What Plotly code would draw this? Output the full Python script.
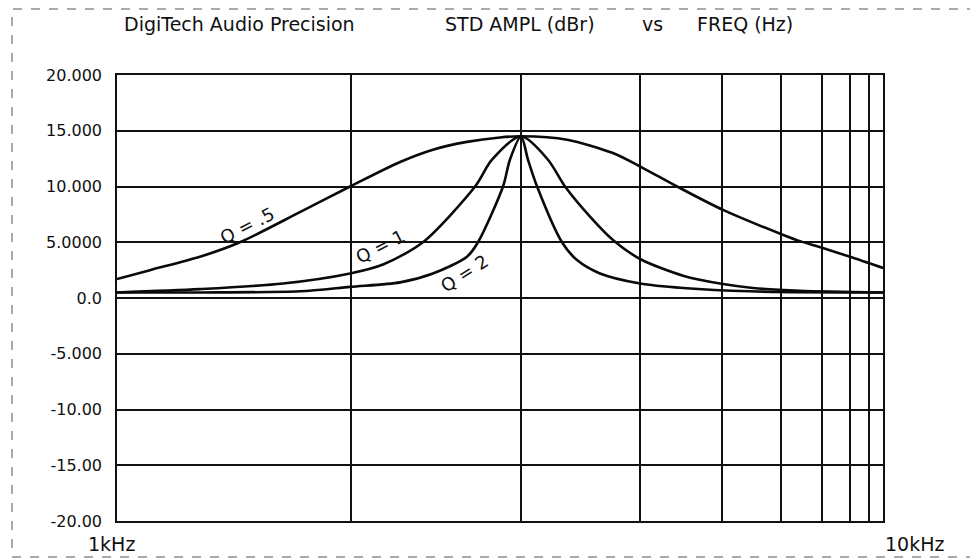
import plotly.graph_objects as go

# ---- data (frequency in Hz, level in dBr) ----
q05_freq = [1000, 1104, 1283, 1447, 1733, 2015, 2342, 2585, 2863, 3162, 3369,
            3868, 4441, 4847, 5384, 6182, 7382, 7791, 8324, 9056, 10000]
q05_db = [1.7, 2.5, 3.7, 5.0, 7.7, 10.0, 12.2, 13.3, 14.0, 14.4, 14.5,
          14.2, 13.0, 11.7, 10.0, 7.9, 5.7, 5.1, 4.5, 3.7, 2.7]

q1_freq = [1000, 1283, 1647, 2015, 2225, 2508, 2934, 3087, 3369,
           3653, 3845, 4145, 4441, 4818, 5482, 6182, 6765, 7791, 10000]
q1_db = [0.5, 0.8, 1.3, 2.2, 3.0, 5.0, 10.0, 12.4, 14.5,
         12.4, 10.0, 7.3, 5.2, 3.5, 2.0, 1.25, 0.9, 0.65, 0.5]

q2_freq = [1000, 1283, 1733, 2015, 2342, 2585, 2863, 2960, 3191, 3258, 3369,
           3440, 3535, 3810, 3986, 4271, 4818, 5482, 6704, 10000]
q2_db = [0.5, 0.5, 0.6, 1.0, 1.4, 2.2, 3.7, 5.0, 10.0, 12.4, 14.5,
         12.4, 10.0, 5.0, 3.4, 2.2, 1.3, 0.9, 0.6, 0.5]

# vertical grid positions (Hz) as they appear on the log frequency axis
grid_freqs = [1000, 2021, 3369, 4818, 6163, 7360, 8324, 9056, 9588, 10000]

y_ticks = [-20, -15, -10, -5, 0, 5, 10, 15, 20]
y_labels = ["-20.00", "-15.00", "-10.00", "-5.000", "0.0", "5.0000", "10.000", "15.000", "20.000"]

curve_labels = ["Q = .5", "Q = 1", "Q = 2"]
x_labels = ["1kHz", "10kHz"]
title_parts = ["DigiTech Audio Precision", "STD AMPL (dBr)", "vs", "FREQ (Hz)"]

# ---- figure ----
# the page body has an 8px margin, so the figure is 8px smaller than the window
OFF = 8
W, H = 978 - OFF, 558 - OFF
PL, PR, PT, PB = 117, 883, 75, 521          # plot area in page pixels
pw, ph = PR - PL, PB - PT


def px(x):
    return (x - PL) / pw


def py(y):
    return (PB - y) / ph


fig = go.Figure()
for fx, fy in [(q05_freq, q05_db), (q1_freq, q1_db), (q2_freq, q2_db)]:
    fig.add_trace(go.Scatter(x=fx, y=fy, mode="lines",
                             line=dict(color="#0a0a0a", width=2.6, shape="spline", smoothing=0.8),
                             showlegend=False, hoverinfo="skip"))

font = "DejaVu Sans"
fig.update_layout(
    width=W, height=H,
    margin=dict(l=PL - OFF, r=W - (PR - OFF), t=PT - OFF, b=H - (PB - OFF), pad=0),
    paper_bgcolor="white", plot_bgcolor="white",
    font=dict(family=font, color="#111", size=16),
    xaxis=dict(type="log", range=[3, 4], tickvals=grid_freqs, showticklabels=False,
               showgrid=True, gridcolor="#111", gridwidth=1.5, zeroline=False,
               showline=True, linecolor="#111", linewidth=1.6, mirror=True, ticks=""),
    yaxis=dict(range=[-20, 20], tickvals=y_ticks, ticktext=y_labels,
               showgrid=True, gridcolor="#111", gridwidth=1.5, zeroline=False,
               showline=True, linecolor="#111", linewidth=1.6, mirror=True, ticks="",
               ticklabelstandoff=10, tickfont=dict(size=16, family=font, color="#111")),
)

# outer dashed frame
fig.add_shape(type="rect", xref="paper", yref="paper",
              x0=px(12), x1=px(976), y0=py(557), y1=py(9),
              line=dict(color="#555", width=1, dash="dash"), layer="below")

# title parts
title_pos = [(122, "left"), (520, "center"), (652, "center"), (795, "right")]
for txt, (x0, anc) in zip(title_parts, title_pos):
    fig.add_annotation(text=txt, xref="paper", yref="paper", x=px(x0), y=py(24),
                       xanchor=anc, yanchor="middle", showarrow=False,
                       font=dict(size=19, family=font, color="#111"))

# axis end labels
fig.add_annotation(text=x_labels[0], xref="paper", yref="paper", x=px(111), y=py(544),
                   xanchor="center", yanchor="middle", showarrow=False,
                   font=dict(size=19, family=font, color="#111"))
fig.add_annotation(text=x_labels[1], xref="paper", yref="paper", x=px(883), y=py(544),
                   xanchor="left", yanchor="middle", showarrow=False,
                   font=dict(size=19, family=font, color="#111"))

# curve labels
for txt, (cx, cy), ang in zip(curve_labels, [(247, 225), (380, 246), (464, 273)], [-27, -27, -33]):
    fig.add_annotation(text=txt, xref="paper", yref="paper", x=px(cx), y=py(cy),
                       xanchor="center", yanchor="middle", showarrow=False, textangle=ang,
                       font=dict(size=18, family=font, color="#111"))

fig.write_html("out.html")
